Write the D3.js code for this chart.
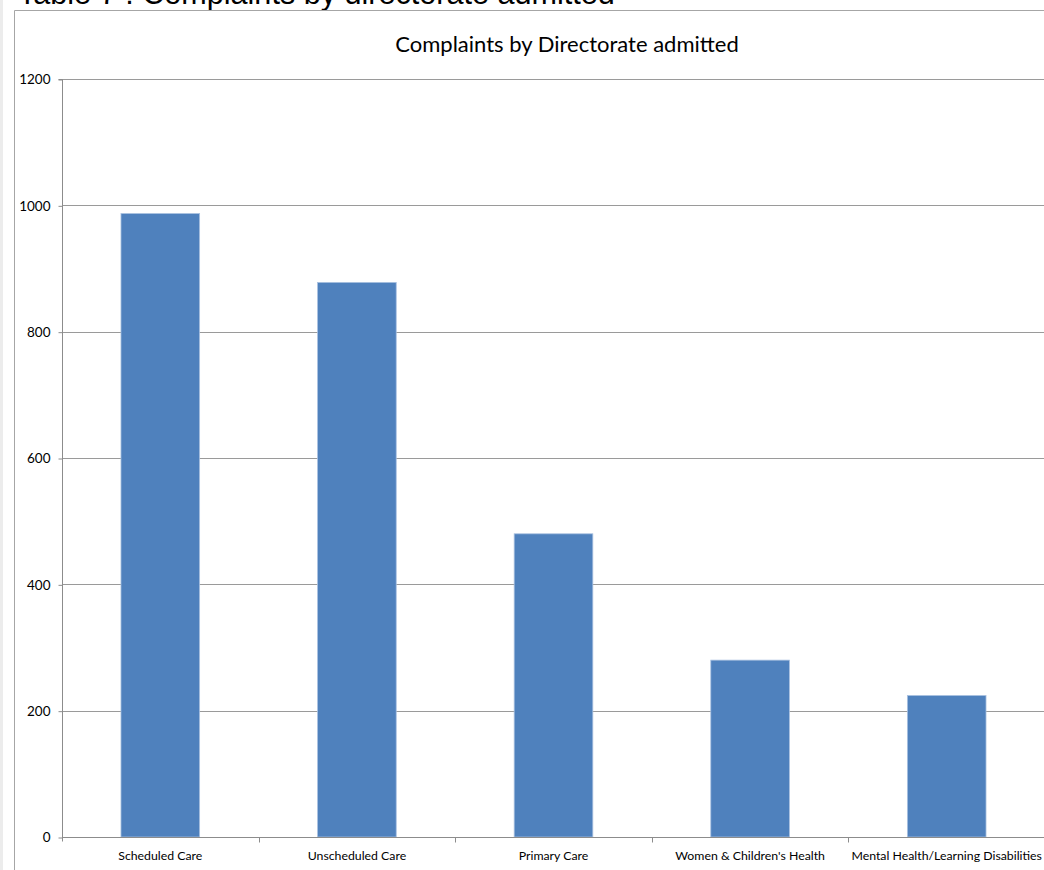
<!DOCTYPE html>
<html>
<head>
<meta charset="utf-8">
<script src="https://cdn.jsdelivr.net/npm/d3@7"></script>
<style>
  html, body { margin: 0; padding: 0; background: #fff; }
  svg { display: block; }
</style>
</head>
<body>
<svg id="chart" width="1044" height="870"></svg>
<script>
// Complaints per directorate
const categories = [
  "Scheduled Care",
  "Unscheduled Care",
  "Primary Care",
  "Women & Children's Health",
  "Mental Health/Learning Disabilities"
];
const complaints = [987, 878, 480, 280, 224];
const yTicks = [0, 200, 400, 600, 800, 1000, 1200];

const pageTitle = "Table 7 : Complaints by directorate admitted";
const chartTitle = "Complaints by Directorate admitted";

const svg = d3.select("#chart");
const W = 1044, H = 870;
const plot = { left: 62, right: 1045, top: 79, bottom: 837 };

// faint page margin strip
svg.append("rect").attr("x", 0).attr("y", 0).attr("width", 3).attr("height", H).attr("fill", "#ececec");

// page heading, running off the top of the page
svg.append("text")
  .attr("x", 18).attr("y", 4)
  .attr("font-family", "Liberation Sans, Arial, sans-serif")
  .attr("font-size", 30.6)
  .attr("fill", "#000")
  .text(pageTitle);

// chart frame
svg.append("path")
  .attr("d", `M14.5,${H} V10.5 H${W}`)
  .attr("fill", "none")
  .attr("stroke", "#a6a6a6")
  .attr("stroke-width", 1);

const x = d3.scaleBand()
  .domain(categories)
  .range([plot.left, plot.right])
  .paddingInner(0.6)
  .paddingOuter(0.3);

const y = d3.scaleLinear()
  .domain([0, 1200])
  .range([plot.bottom, plot.top]);

// horizontal gridlines
svg.append("g")
  .selectAll("line")
  .data(yTicks.filter(d => d > 0))
  .join("line")
  .attr("x1", plot.left).attr("x2", plot.right)
  .attr("y1", d => Math.round(y(d)) + 0.5)
  .attr("y2", d => Math.round(y(d)) + 0.5)
  .attr("stroke", "#9a9a9a")
  .attr("stroke-width", 1);

// bars
svg.append("g")
  .selectAll("rect")
  .data(categories)
  .join("rect")
  .attr("x", d => x(d))
  .attr("width", x.bandwidth())
  .attr("y", (d, i) => y(complaints[i]))
  .attr("height", (d, i) => y(0) - y(complaints[i]))
  .attr("fill", "#4f81bd")
  .attr("stroke", "#a9c1e0")
  .attr("stroke-width", 0.8);

// y axis
const yAxis = d3.axisLeft(y)
  .tickValues(yTicks)
  .tickSize(4)
  .tickPadding(8)
  .tickFormat(d3.format("d"));
const gy = svg.append("g")
  .attr("transform", `translate(${plot.left + 0.5},0.5)`)
  .call(yAxis);
gy.select(".domain").attr("stroke", "#8c8c8c").attr("d", `M-4,${plot.top}H0V${plot.bottom + 4}`);
gy.selectAll(".tick line").attr("stroke", "#8c8c8c");
gy.selectAll(".tick text")
  .attr("font-family", "Lato, 'Open Sans', sans-serif")
  .attr("font-size", 13.5)
  .attr("fill", "#000");

// x axis baseline with ticks at category boundaries
const gx = svg.append("g").attr("transform", `translate(0,${Math.round(plot.bottom) + 0.5})`);
gx.append("line")
  .attr("x1", plot.left).attr("x2", plot.right)
  .attr("stroke", "#8c8c8c");
const edges = d3.range(1, categories.length + 1).map(i => plot.left + i * x.step());
gx.selectAll("line.edge")
  .data(edges)
  .join("line")
  .attr("class", "edge")
  .attr("x1", d => Math.round(d) + 0.5).attr("x2", d => Math.round(d) + 0.5)
  .attr("y1", 0).attr("y2", 5)
  .attr("stroke", "#8c8c8c");
gx.selectAll("text")
  .data(categories)
  .join("text")
  .attr("x", d => x(d) + x.bandwidth() / 2)
  .attr("y", 22)
  .attr("text-anchor", "middle")
  .attr("font-family", "Lato, 'Open Sans', sans-serif")
  .attr("font-size", 12.3)
  .attr("fill", "#000")
  .text(d => d);

// chart title
svg.append("text")
  .attr("x", 567).attr("y", 52)
  .attr("text-anchor", "middle")
  .attr("font-family", "Lato, 'Open Sans', sans-serif")
  .attr("font-size", 22)
  .attr("fill", "#000")
  .text(chartTitle);
</script>
</body>
</html>
